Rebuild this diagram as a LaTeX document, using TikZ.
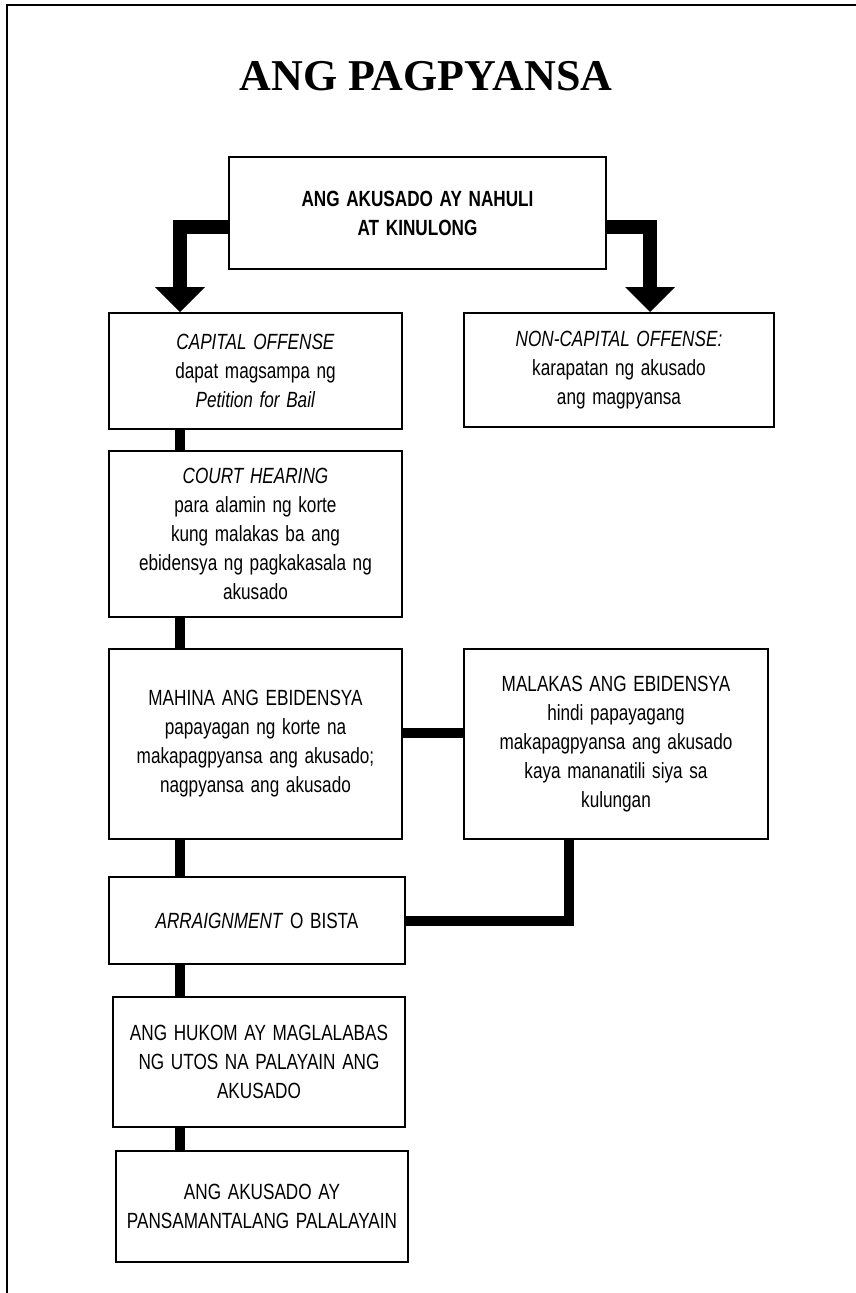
\documentclass[tikz,border=0pt]{standalone}
\usepackage{fontspec}
\usetikzlibrary{arrows.meta}
\newfontfamily\narrowsans[FakeStretch=0.78,WordSpace=1.4]{Liberation Sans}
\newfontfamily\headserif{Liberation Serif}
\newcommand\boxtext{\narrowsans\fontsize{22pt}{29pt}\selectfont}

\begin{document}
\begin{tikzpicture}[x=1pt, y=-1pt,
    stepbox/.style={draw, line width=2pt, align=center, inner sep=0pt, font=\boxtext},
    bigarrow/.style={line width=14pt, -{Triangle[width=50pt 0 0, length=25pt 0 0, line width=0pt]}},
    link/.style={line width=10pt}]
        \useasboundingbox (0,0) rectangle (856,1293);
        \draw[line width=2pt] (856,5) -- (7,5) -- (7,1293);

        \node (title) at (426,76) {\headserif\bfseries\fontsize{44pt}{52pt}\selectfont ANG PAGPYANSA};

        \node[stepbox, minimum width=377pt, minimum height=112pt, font=\boxtext\bfseries] (arrest) at (417.5,213)
          {ANG AKUSADO AY NAHULI\\AT KINULONG};
        \node[stepbox, minimum width=293pt, minimum height=116pt] (capital) at (255.5,371)
          {\textit{CAPITAL OFFENSE}\\dapat magsampa ng\\\textit{Petition for Bail}};
        \node[stepbox, minimum width=310pt, minimum height=114pt] (noncap) at (619,370)
          {\textit{NON-CAPITAL OFFENSE:}\\karapatan ng akusado\\ang magpyansa};
        \node[stepbox, minimum width=293pt, minimum height=166pt] (court) at (255.5,534)
          {\textit{COURT HEARING}\\para alamin ng korte\\kung malakas ba ang\\ebidensya ng pagkakasala ng\\akusado};
        \node[stepbox, minimum width=293pt, minimum height=190pt] (weak) at (255.5,744)
          {MAHINA ANG EBIDENSYA\\papayagan ng korte na\\makapagpyansa ang akusado;\\nagpyansa ang akusado};
        \node[stepbox, minimum width=304pt, minimum height=190pt] (strong) at (616,744)
          {MALAKAS ANG EBIDENSYA\\hindi papayagang\\makapagpyansa ang akusado\\kaya mananatili siya sa\\kulungan};
        \node[stepbox, minimum width=296pt, minimum height=87pt] (arraign) at (257,920.5)
          {\textit{ARRAIGNMENT} O BISTA};
        \node[stepbox, minimum width=292pt, minimum height=130pt] (order) at (259,1062)
          {ANG HUKOM AY MAGLALABAS\\NG UTOS NA PALAYAIN ANG\\AKUSADO};
        \node[stepbox, minimum width=292pt, minimum height=111pt] (release) at (262,1206.5)
          {ANG AKUSADO AY\\PANSAMANTALANG PALALAYAIN};

        \coordinate (spine) at (180,0);

        \draw[bigarrow] ([yshift=-14pt]arrest.west) -| (capital.north -| spine);
        \draw[bigarrow] ([yshift=-14pt]arrest.east) -| ([xshift=31pt]noncap.north);

        \draw[link] (capital.south -| spine) -- (court.north -| spine);
        \draw[link] (court.south -| spine) -- (weak.north -| spine);
        \draw[link] ([yshift=11pt]weak.east) -- ([yshift=11pt]weak.east -| strong.west);
        \draw[link] (weak.south -| spine) -- (arraign.north -| spine);
        \draw[link] (arraign.east) -| ([xshift=-47pt]strong.south);
        \draw[link] (arraign.south -| spine) -- (order.north -| spine);
        \draw[link] (order.south -| spine) -- (release.north -| spine);
      \end{tikzpicture}
\end{document}
